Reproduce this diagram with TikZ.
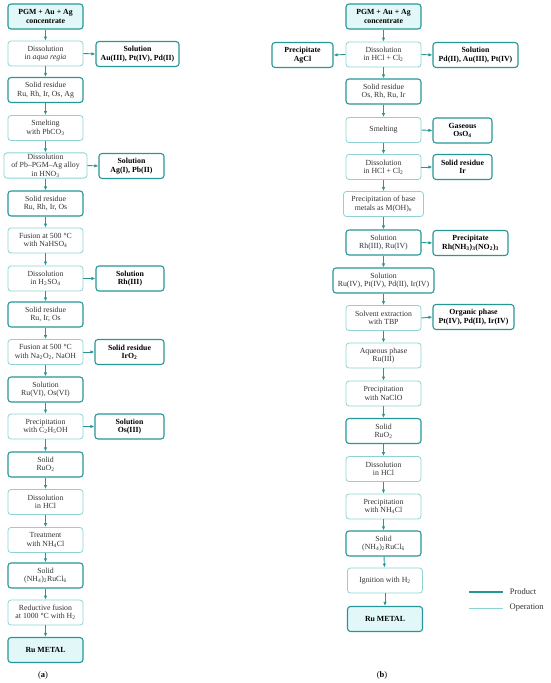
\documentclass[tikz,border=0pt]{standalone}
\usepackage{fontspec}
\setmainfont{Liberation Serif}
\usepackage{tikz}
\usetikzlibrary{arrows.meta}
\definecolor{prodteal}{RGB}{38, 150, 150}
\definecolor{opteal}{RGB}{140, 210, 210}
\definecolor{endfill}{RGB}{226, 248, 248}
\definecolor{txtgray}{RGB}{50, 50, 50}
\newcommand{\sub}[1]{\textsubscript{#1}}

\begin{document}
\begin{tikzpicture}[x=1pt, y=-1pt,
		>={Latex[length=4pt,width=3.4pt]},   % arrow tips
		font=\fontsize{7.8}{8.4}\selectfont,
		box/.style={rectangle, rounded corners=3pt, align=center, text=txtgray,
			minimum width=75pt, minimum height=25pt, inner sep=1pt},
		prod/.style={box, draw=prodteal, line width=1.1pt},
		oper/.style={box, draw=opteal, line width=0.8pt},
		endbox/.style={prod, fill=endfill, text=black, font=\fontsize{7.8}{8.4}\selectfont\bfseries},
		side/.style={prod, font=\fontsize{7.8}{8.4}\selectfont\bfseries, text=black},
		flow/.style={->, draw=prodteal, line width=0.9pt},
		caption/.style={text=black, font=\fontsize{8.5}{10}\selectfont}]
	\useasboundingbox (0,0) rectangle (550,683);
	% (a) left chain
	\node[endbox] (a1)  at (45.5,16.5)  {PGM + Au + Ag\\concentrate};
	\node[oper]   (a2)  at (45.5,53.5)  {Dissolution\\in \textit{aqua regia}};
	\node[prod]   (a3)  at (45.5,90)    {Solid residue\\Ru, Rh, Ir, Os, Ag};
	\node[oper]   (a4)  at (45.5,128)   {Smelting\\with PbCO\sub{3}};
	\node[oper, minimum width=83pt] (a5) at (45.5,165.5) {Dissolution\\of Pb–PGM–Ag alloy\\in HNO\sub{3}};
	\node[prod]   (a6)  at (45.5,203.5) {Solid residue\\Ru, Rh, Ir, Os};
	\node[oper]   (a7)  at (45.5,240.5) {Fusion at 500 °C\\with NaHSO\sub{4}};
	\node[oper]   (a8)  at (45.5,278.5) {Dissolution\\in H\sub{2}SO\sub{4}};
	\node[prod]   (a9)  at (45.5,314.5) {Solid residue\\Ru, Ir, Os};
	\node[oper]   (a10) at (45.5,352)   {Fusion at 500 °C\\with Na\sub{2}O\sub{2}, NaOH};
	\node[prod]   (a11) at (45.5,389.5) {Solution\\Ru(VI), Os(VI)};
	\node[oper]   (a12) at (45.5,426.5) {Precipitation\\with C\sub{2}H\sub{5}OH};
	\node[prod]   (a13) at (45.5,464.5) {Solid\\RuO\sub{2}};
	\node[oper]   (a14) at (45.5,502)   {Dissolution\\in HCl};
	\node[oper]   (a15) at (45.5,540)   {Treatment\\with NH\sub{4}Cl};
	\node[prod]   (a16) at (45.5,575.5) {Solid\\(NH\sub{4})\sub{2}RuCl\sub{6}};
	\node[oper]   (a17) at (45.5,612.5) {Reductive fusion\\at 1000 °C with H\sub{2}};
	\node[endbox] (a18) at (45.5,650)   {Ru METAL};
	% (a) side products
	\node[side, minimum width=83pt] (a2s)  at (137.5,54)  {Solution\\Au(III), Pt(IV), Pd(II)};
	\node[side, minimum width=65pt] (a5s)  at (131.5,166) {Solution\\Ag(I), Pb(II)};
	\node[side, minimum width=68pt] (a8s)  at (130,278.5) {Solution\\Rh(III)};
	\node[side, minimum width=69pt] (a10s) at (129.5,352) {Solid residue\\IrO\sub{2}};
	\node[side, minimum width=69pt] (a12s) at (129.5,426.5) {Solution\\Os(III)};
	\node[caption] (la) at (43,675) {(\textbf{a})};
	% (b) right chain
	\node[endbox] (b1)  at (383.5,16.5)  {PGM + Au + Ag\\concentrate};
	\node[oper]   (b2)  at (383.5,54.5)  {Dissolution\\in HCl + Cl\sub{2}};
	\node[prod]   (b3)  at (383.5,91.5)  {Solid residue\\Os, Rh, Ru, Ir};
	\node[oper]   (b4)  at (383.5,130)   {Smelting};
	\node[oper]   (b5)  at (383.5,167)   {Dissolution\\in HCl + Cl\sub{2}};
	\node[oper, minimum width=80pt] (b6) at (383.5,204) {Precipitation of base\\metals as M(OH)\sub{\textit{n}}};
	\node[prod]   (b7)  at (383.5,242.5) {Solution\\Rh(III), Ru(IV)};
	\node[prod, minimum width=101pt] (b8) at (383.5,280.5) {Solution\\Ru(IV), Pt(IV), Pd(II), Ir(IV)};
	\node[oper]   (b9)  at (383.5,318)   {Solvent extraction\\with TBP};
	\node[oper]   (b10) at (383.5,355.5) {Aqueous phase\\Ru(III)};
	\node[oper]   (b11) at (383.5,393.5) {Precipitation\\with NaClO};
	\node[prod]   (b12) at (383.5,431)   {Solid\\RuO\sub{2}};
	\node[oper]   (b13) at (383.5,469)   {Dissolution\\in HCl};
	\node[oper]   (b14) at (383.5,506.5) {Precipitation\\with NH\sub{4}Cl};
	\node[prod]   (b15) at (383.5,543.5) {Solid\\(NH\sub{4})\sub{2}RuCl\sub{6}};
	\node[oper]   (b16) at (385,580.5)   {Ignition with H\sub{2}};
	\node[endbox] (b17) at (385,619)     {Ru METAL};
	% (b) side products
	\node[side, minimum width=61pt] (b2l) at (302.5,55)  {Precipitate\\AgCl};
	\node[side, minimum width=85pt] (b2r) at (475.5,55)  {Solution\\Pd(II), Au(III), Pt(IV)};
	\node[side, minimum width=59pt] (b4r) at (462.5,130.5) {Gaseous\\OsO\sub{4}};
	\node[side, minimum width=59pt] (b5r) at (462.5,167) {Solid residue\\Ir};
	\node[side, minimum width=75pt] (b7r) at (470.5,243) {Precipitate\\Rh(NH\sub{3})\sub{3}(NO\sub{2})\sub{3}};
	\node[side, minimum width=81pt] (b9r) at (473.5,317) {Organic phase\\Pt(IV), Pd(II), Ir(IV)};
	\node[caption] (lb) at (382,675) {(\textbf{b})};
	% Pfeile
	\foreach \i [evaluate=\i as \j using int(\i+1)] in {1,...,17}
		\draw[flow] (a\i) -- (a\j);
	\foreach \i [evaluate=\i as \j using int(\i+1)] in {1,...,16}
		\draw[flow] (b\i) -- (b\j);
	\foreach \m/\s in {a2/a2s, a5/a5s, a8/a8s, a10/a10s, a12/a12s, b2/b2r, b4/b4r, b5/b5r, b7/b7r, b9/b9r}
		\draw[flow] (\m.east) -- (\s.west);
	\draw[flow] (b2.west) -- (b2l.east);
	% Legende
	\coordinate (lp1) at (469,592);
	\coordinate (lp2) at (503,592);
	\coordinate (lo1) at (469,608);
	\coordinate (lo2) at (503,608);
	\draw[prodteal, line width=1.1pt] (lp1) -- (lp2) node[right=3pt, caption, text=txtgray] (lpt) {Product};
	\draw[opteal, line width=0.8pt] (lo1) -- (lo2) node[right=3pt, caption, text=txtgray] (lot) {Operation};
\end{tikzpicture}
\end{document}
